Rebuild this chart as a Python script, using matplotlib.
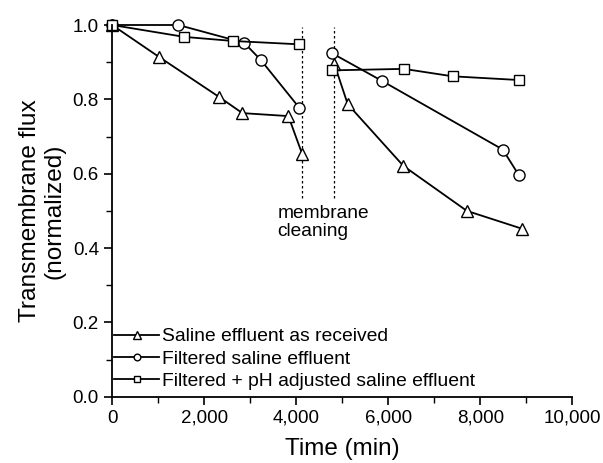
import matplotlib.pyplot as plt
from matplotlib.ticker import MultipleLocator, FuncFormatter

plt.rcParams['font.family'] = ['Liberation Sans', 'DejaVu Sans']

# time (min) and normalized flux, before and after membrane cleaning
t_raw_1 = [0, 1020, 2330, 2830, 3830, 4130]
f_raw_1 = [1.0, 0.914, 0.806, 0.763, 0.755, 0.653]
t_raw_2 = [4830, 5120, 6330, 7710, 8910]
f_raw_2 = [0.895, 0.787, 0.621, 0.500, 0.452]

t_filt_1 = [0, 1440, 2870, 3230, 4070]
f_filt_1 = [1.0, 1.0, 0.952, 0.906, 0.777]
t_filt_2 = [4780, 5860, 8490, 8840]
f_filt_2 = [0.924, 0.850, 0.665, 0.596]

t_ph_1 = [0, 1570, 2630, 4070]
f_ph_1 = [1.0, 0.968, 0.957, 0.948]
t_ph_2 = [4780, 6340, 7400, 8840]
f_ph_2 = [0.878, 0.882, 0.862, 0.852]

labels = ['Saline effluent as received', 'Filtered saline effluent',
          'Filtered + pH adjusted saline effluent']
cleaning = [4120, 4820]

fig = plt.figure(figsize=(6.03, 4.63), dpi=100)
ax = fig.add_axes([0.186, 0.143, 0.763, 0.803])

series = [
    (t_raw_1, f_raw_1, t_raw_2, f_raw_2, '^', 9),
    (t_filt_1, f_filt_1, t_filt_2, f_filt_2, 'o', 8),
    (t_ph_1, f_ph_1, t_ph_2, f_ph_2, 's', 7),
]
for (x1, y1, x2, y2, m, ms), lab in zip(series, labels):
    kw = dict(color='black', lw=1.3, marker=m, ms=ms, mfc='white',
              mec='black', mew=1.0, clip_on=False)
    ax.plot(x1, y1, label=lab, **kw)
    ax.plot(x2, y2, **kw)

for xc in cleaning:
    ax.plot([xc, xc], [0.535, 0.995], color='black', lw=0.9, ls=(0, (2, 2)), zorder=0)

ax.text(3590, 0.468, 'membrane\ncleaning', ha='left', va='center',
        fontsize=13.8, linespacing=1.1)

ax.set_xlim(0, 10000)
ax.set_ylim(0, 1.0)
ax.xaxis.set_major_locator(MultipleLocator(2000))
ax.xaxis.set_minor_locator(MultipleLocator(1000))
ax.yaxis.set_major_locator(MultipleLocator(0.2))
ax.yaxis.set_minor_locator(MultipleLocator(0.1))
ax.xaxis.set_major_formatter(FuncFormatter(lambda v, p: f'{int(v):,}'))
ax.yaxis.set_major_formatter(FuncFormatter(lambda v, p: f'{v:.1f}'))
ax.tick_params(which='major', direction='out', length=6, width=1.2, labelsize=13.5)
ax.tick_params(which='minor', direction='out', length=4, width=1.0)

for s in ['top', 'right']:
    ax.spines[s].set_visible(False)
for s in ['left', 'bottom']:
    ax.spines[s].set_linewidth(1.3)

ax.set_xlabel('Time (min)', fontsize=17.5, labelpad=8)
ax.set_ylabel('Transmembrane flux\n(normalized)', fontsize=17.6, linespacing=1.15,
              labelpad=5)

ax.legend(loc='lower left', frameon=False, fontsize=13.9, markerscale=0.6,
          handlelength=2.3, handletextpad=0.15, labelspacing=0.25,
          borderaxespad=0.15, borderpad=0.2, bbox_to_anchor=(-0.01, 0.0))

fig.savefig('out.png', dpi=100)
